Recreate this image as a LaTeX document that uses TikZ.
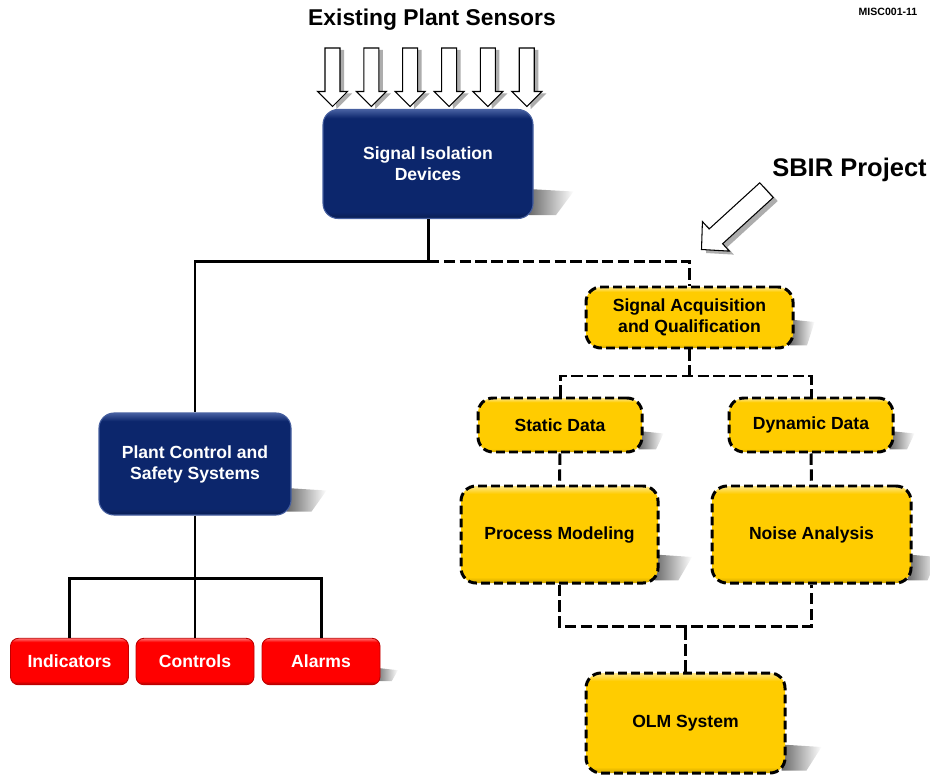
\documentclass[tikz,border=0pt]{standalone}
\usepackage{fontspec}
\setmainfont{Liberation Sans}
\usepackage{tikz}
\usetikzlibrary{positioning, calc, backgrounds, fadings}

\definecolor{navyfill}{RGB}{12,38,108}
\definecolor{navyrim}{RGB}{70,95,160}
\definecolor{olmyellow}{RGB}{255,204,0}
\definecolor{alarmred}{RGB}{255,0,0}
\definecolor{shadowgray}{RGB}{105,105,105}

% glossy fills: dark bottom rim, flat body, light top rim
\pgfdeclareverticalshading{navygloss}{100bp}{color(0bp)=(navyfill!75!black); color(25bp)=(navyfill!75!black); color(28bp)=(navyfill); color(71bp)=(navyfill); color(75bp)=(navyrim); color(100bp)=(navyrim)}
\pgfdeclareverticalshading{goldgloss}{100bp}{color(0bp)=(olmyellow!80!black); color(25bp)=(olmyellow!80!black); color(28bp)=(olmyellow); color(71bp)=(olmyellow); color(75bp)=(olmyellow!45!white); color(100bp)=(olmyellow!45!white)}
\pgfdeclareverticalshading{redgloss}{100bp}{color(0bp)=(alarmred!65!black); color(25bp)=(alarmred!65!black); color(29bp)=(alarmred); color(71bp)=(alarmred); color(75bp)=(alarmred!55!white); color(100bp)=(alarmred!55!white)}

\tikzset{
  boxtext/.style={font=\bfseries\fontsize{10}{12}\selectfont, align=center, inner sep=0pt},
  navybox/.style={boxtext, rectangle, rounded corners=0.3cm, shading=navygloss, draw=navyrim, line width=0.6pt, text=white},
  goldbox/.style={boxtext, rectangle, rounded corners=0.3cm, shading=goldgloss, draw=black, line width=1.7pt, dash pattern=on 5pt off 2.4pt, text=black},
  redbox/.style={boxtext, rectangle, rounded corners=0.16cm, shading=redgloss, draw=alarmred!75!black, line width=0.5pt, text=white, minimum width=2.36cm, minimum height=0.93cm},
  solidlink/.style={line width=1.7pt},
  dashlink/.style={line width=1.7pt, dash pattern=on 6.5pt off 2.5pt},
  fatarrow/.style={draw=black, fill=white, line width=0.6pt, line join=miter},
  fatshadow/.style={fill=shadowgray, opacity=0.55},
}

% slanted cast shadow at the lower right of a box: node, reach, height
\newcommand{\castshadow}[3]{%
  \fill[shadowgray, path fading=east] ($(#1.south east)+(-0.1,#3)$) -- ++(#2,-0.05)
    -- ($(#1.south east)+(0.5*#2,0.08)$) -- ($(#1.south east)+(-0.1,0.08)$) -- cycle;}

\begin{document}
\begin{tikzpicture}
\useasboundingbox (0,0) rectangle (18.6,-15.48);

% headings
\node[font=\bfseries\fontsize{13}{15}\selectfont] (sensors) at (8.64,-0.4) {Existing Plant Sensors};
\node[font=\bfseries\fontsize{14.5}{17}\selectfont] (sbir) at (16.99,-3.4) {SBIR Project};
\node[font=\bfseries\fontsize{6}{7}\selectfont] (tag) at (17.76,-0.24) {MISC001-11};

% plant side
\node[navybox, minimum width=4.2cm, minimum height=2.18cm] (sid) at (8.56,-3.28) {Signal Isolation\\Devices};
\node[navybox, minimum width=3.84cm, minimum height=2.04cm] (pcss) at (3.90,-9.28) {Plant Control and\\Safety Systems};
\node[redbox] (ind) at (1.39,-13.23) {Indicators};
\node[redbox] (ctl) at (3.90,-13.23) {Controls};
\node[redbox] (alm) at (6.42,-13.23) {Alarms};

% project side
\node[goldbox, minimum width=4.14cm, minimum height=1.22cm] (saq) at (13.79,-6.35) {Signal Acquisition\\and Qualification};
\node[goldbox, minimum width=3.28cm, minimum height=1.08cm] (static) at (11.20,-8.50) {Static Data};
\node[goldbox, minimum width=3.28cm, minimum height=1.08cm] (dynamic) at (16.22,-8.50) {Dynamic Data};
\node[goldbox, minimum width=3.94cm, minimum height=1.94cm] (pm) at (11.19,-10.69) {Process Modeling};
\node[goldbox, minimum width=3.98cm, minimum height=1.94cm] (na) at (16.23,-10.69) {Noise Analysis};
\node[goldbox, minimum width=3.98cm, minimum height=2.0cm] (olm) at (13.71,-14.46) {OLM System};

% cast shadows
\begin{scope}[on background layer]
\castshadow{sid}{0.9}{0.6}
\castshadow{pcss}{0.8}{0.55}
\castshadow{saq}{0.5}{0.6}
\castshadow{static}{0.5}{0.45}
\castshadow{dynamic}{0.5}{0.45}
\castshadow{pm}{0.75}{0.6}
\castshadow{na}{0.6}{0.6}
\castshadow{olm}{0.8}{0.6}
\castshadow{alm}{0.45}{0.35}
\end{scope}

% connectors
\draw[solidlink] (sid.south) -- ++(0,-0.84) coordinate (split) -| (pcss.north);
\draw[dashlink] (split) -| (saq.north);
\draw[dashlink] (saq.south) -- ++(0,-0.53) coordinate (fork);
\draw[dashlink] (static.north) |- (fork) -| (dynamic.north);
\draw[dashlink] (static.south) -- (pm.north);
\draw[dashlink] (dynamic.south) -- (na.north);
\draw[dashlink] (olm.north) -- ++(0,0.9) coordinate (merge);
\draw[dashlink] (pm.south) |- (merge) -| (na.south);
\draw[solidlink] (pcss.south) -- ++(0,-1.26) coordinate (bus);
\draw[solidlink] (ind.north) |- (bus) -| (alm.north);
\draw[solidlink] (bus) -- (ctl.north);

% sensor inputs
\foreach \i in {0,...,5} {
  \pgfmathsetmacro{\x}{6.65+0.777*\i}
  \fill[fatshadow] (\x+0.23,-1.0) -- (\x+0.23,-1.87) -- (\x+0.39,-1.87) -- (\x+0.08,-2.18) -- (\x+0.05,-1.87) -- (\x+0.05,-1.0) -- cycle;
  \draw[fatarrow] (\x-0.15,-0.96) -- (\x+0.15,-0.96) -- (\x+0.15,-1.83) -- (\x+0.3,-1.83)
    -- (\x,-2.13) -- (\x-0.3,-1.83) -- (\x-0.15,-1.83) -- cycle;
}

% project pointer
\begin{scope}[shift={(14.12,-5.06)}, rotate=222.4]
\fill[fatshadow] (0,0) -- (-0.39,0.4) -- (-0.39,0.2) -- (-1.76,0.2) -- (-1.76,-0.2) -- (-0.39,-0.2) -- (-0.39,-0.4) -- cycle;
\end{scope}
\begin{scope}[shift={(14.03,-4.99)}, rotate=222.4]
\draw[fatarrow] (0,0) -- (-0.39,0.4) -- (-0.39,0.2) -- (-1.76,0.2) -- (-1.76,-0.2) -- (-0.39,-0.2) -- (-0.39,-0.4) -- cycle;
\end{scope}
\end{tikzpicture}
\end{document}
